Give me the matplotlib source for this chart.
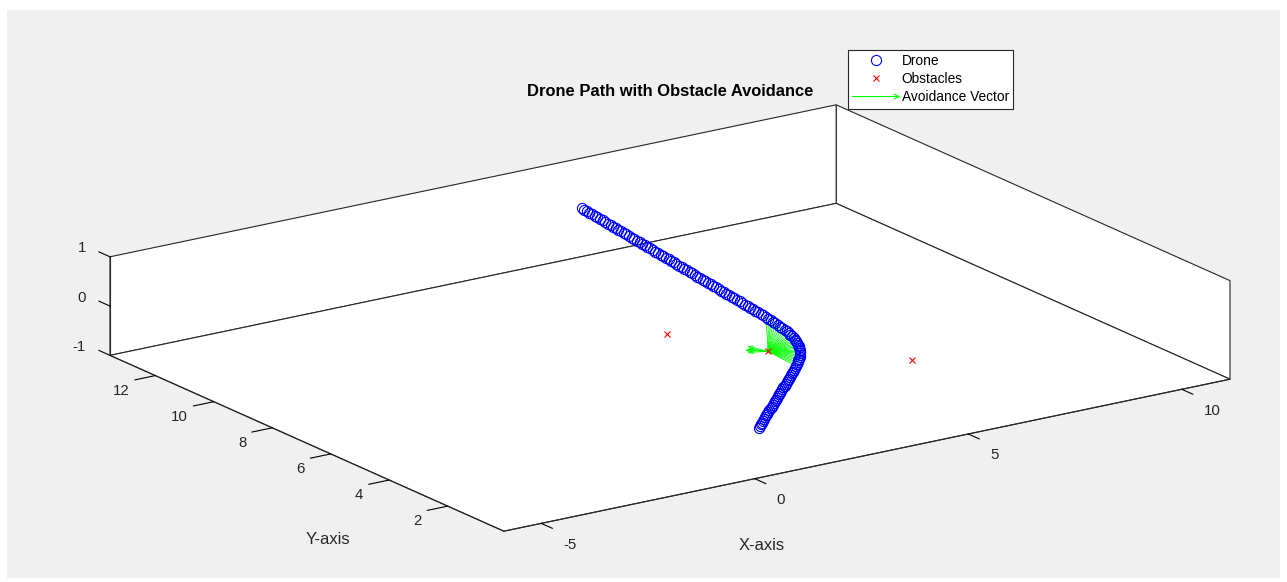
import numpy as np
import matplotlib.pyplot as plt
from matplotlib.patches import Rectangle, FancyArrowPatch
from matplotlib.legend_handler import HandlerBase
from matplotlib.transforms import IdentityTransform
from mpl_toolkits.mplot3d import proj3d

plt.rcParams['font.family'] = ['Liberation Sans', 'DejaVu Sans']
plt.rcParams['axes.unicode_minus'] = False

# drone path (z = 0)
drone_x = [0.12, 0.20, 0.28, 0.36, 0.44, 0.52, 0.60, 0.68, 0.76, 0.84, 0.92, 1.00,
           1.08, 1.16, 1.24, 1.32, 1.40, 1.48, 1.56, 1.64, 1.72, 1.80, 1.88, 1.96,
           2.04, 2.12, 2.20, 2.28, 2.36, 2.44, 2.52, 2.60, 2.68, 2.76, 2.84,
           2.92, 3.00, 3.08, 3.16, 3.24, 3.31, 3.38, 3.45, 3.51, 3.57, 3.62, 3.67,
           3.72, 3.77, 3.81, 3.85, 3.89, 3.92, 3.95, 3.98, 4.01, 4.03, 4.05, 4.07,
           4.09, 4.11, 4.13, 4.15, 4.17, 4.19,
           4.20, 4.22, 4.23, 4.24, 4.26, 4.27, 4.29, 4.30, 4.31, 4.33, 4.34, 4.35,
           4.37, 4.38, 4.39, 4.41, 4.42, 4.44, 4.45, 4.46, 4.48, 4.49, 4.50, 4.52,
           4.53, 4.54, 4.56, 4.57, 4.59, 4.60, 4.61, 4.63, 4.64, 4.65, 4.67, 4.68,
           4.70, 4.71, 4.72, 4.74, 4.75, 4.76, 4.78, 4.79, 4.80, 4.82, 4.83, 4.85,
           4.86, 4.87, 4.89, 4.90, 4.91, 4.93, 4.94, 4.95, 4.97, 4.98, 5.00, 5.01,
           5.02, 5.04, 5.05, 5.06, 5.08, 5.09, 5.10, 5.12, 5.13, 5.15]
drone_y = [0.12, 0.20, 0.28, 0.36, 0.44, 0.52, 0.60, 0.68, 0.76, 0.84, 0.92, 1.00,
           1.08, 1.16, 1.24, 1.32, 1.40, 1.48, 1.56, 1.64, 1.72, 1.80, 1.88, 1.96,
           2.04, 2.12, 2.20, 2.28, 2.36, 2.44, 2.52, 2.60, 2.68, 2.76, 2.84,
           2.93, 3.02, 3.11, 3.20, 3.29, 3.38, 3.47, 3.56, 3.65, 3.74, 3.84, 3.93,
           4.03, 4.13, 4.23, 4.33, 4.43, 4.53, 4.63, 4.73, 4.84, 4.94, 5.05, 5.16,
           5.27, 5.38, 5.49, 5.60, 5.71, 5.82,
           5.93, 6.04, 6.15, 6.26, 6.37, 6.48, 6.59, 6.70, 6.81, 6.92, 7.03, 7.14,
           7.25, 7.36, 7.47, 7.58, 7.69, 7.80, 7.91, 8.02, 8.13, 8.24, 8.35, 8.46,
           8.57, 8.68, 8.79, 8.90, 9.01, 9.12, 9.23, 9.34, 9.45, 9.56, 9.67, 9.78,
           9.89, 10.00, 10.11, 10.22, 10.33, 10.44, 10.55, 10.66, 10.77, 10.88, 10.99, 11.10,
           11.21, 11.32, 11.43, 11.54, 11.65, 11.76, 11.87, 11.98, 12.09, 12.20, 12.31, 12.42,
           12.53, 12.64, 12.75, 12.86, 12.97, 13.08, 13.19, 13.30, 13.41, 13.52]
drone_z = np.zeros(len(drone_x))

# obstacles
obs_x = [2, 3, 5]
obs_y = [6, 4, 2]
obs_z = [0, 0, 0]

# avoidance vectors (tail points + components)
avoid_x = [2.92, 3.00, 3.08, 3.16, 3.24, 3.31, 3.38, 3.45, 3.51, 3.57, 3.62, 3.67,
           3.72, 3.77, 3.81, 3.85, 3.89, 3.92, 3.95, 3.98, 4.01, 4.03, 4.05, 4.07,
           4.09, 4.11, 4.13, 4.15, 4.17, 4.19, 3.0, 3.0, 3.0, 3.0, 3.0]
avoid_y = [2.93, 3.02, 3.11, 3.20, 3.29, 3.38, 3.47, 3.56, 3.65, 3.74, 3.84, 3.93,
           4.03, 4.13, 4.23, 4.33, 4.43, 4.53, 4.63, 4.73, 4.84, 4.94, 5.05, 5.16,
           5.27, 5.38, 5.49, 5.60, 5.71, 5.82, 4.0, 4.0, 4.0, 4.0, 4.0]
avoid_u = [0.08, 0.00, -0.08, -0.16, -0.24, -0.31, -0.38, -0.45, -0.51, -0.57, -0.62, -0.67,
           -0.72, -0.77, -0.81, -0.85, -0.89, -0.92, -0.95, -0.98, -1.01, -1.03, -1.05, -1.07,
           -1.09, -1.11, -1.13, -1.15, -1.17, -1.19, -0.14, -0.27, -0.355, -0.20, -0.32]
avoid_v = [1.07, 0.98, 0.89, 0.80, 0.71, 0.62, 0.53, 0.44, 0.35, 0.26, 0.16, 0.07,
           -0.03, -0.13, -0.23, -0.33, -0.43, -0.53, -0.63, -0.73, -0.84, -0.94, -1.05, -1.16,
           -1.27, -1.38, -1.49, -1.60, -1.71, -1.82, 0.48, 0.33, 0.166, 0.36, 0.29]
n_fan = 30

xticks = [-5, 0, 5, 10]
yticks = [2, 4, 6, 8, 10, 12]
zticks = [-1, 0, 1]
xlim = (-5.875, 11.13)
ylim = (0.08, 13.55)
zlim = (-1, 1)

W, H = 1287, 582
fig = plt.figure(figsize=(W / 100, H / 100), dpi=100, facecolor='white')
fig.patches.append(Rectangle((7 / W, 4 / H), 1273 / W, 568 / H, transform=fig.transFigure,
                             facecolor='#f0f0f0', edgecolor='none', zorder=-10))

side = 500
ax = fig.add_axes([(670 - side / 2) / W, (264 - side / 2) / H, side / W, side / H],
                  projection='3d', computed_zorder=False)
ax.patch.set_alpha(0)
ax.set_proj_type('ortho')
ax.view_init(elev=17.8, azim=-124.4)
ax.set_xlim(xlim)
ax.set_ylim(ylim)
ax.set_zlim(zlim)
ax.set_box_aspect((xlim[1] - xlim[0], ylim[1] - ylim[0], zlim[1] - zlim[0]), zoom=0.8)
ax.grid(False)

edge = '#262626'
for axis in (ax.xaxis, ax.yaxis, ax.zaxis):
    axis.set_pane_color((1, 1, 1, 1))
    axis.pane.set_closed(True)
    axis.pane.set_edgecolor(edge)
    axis.pane.set_linewidth(0.8)
    axis.pane.set_clip_on(False)
    axis.line.set_color(edge)
    axis.line.set_linewidth(0.8)
    axis.line.set_clip_on(False)
    axis._axinfo['tick']['inward_factor'] = 0.35
    axis._axinfo['tick']['outward_factor'] = 0.0
    axis._axinfo['tick']['linewidth'] = {True: 0.8, False: 0.5}
    axis._axinfo['tick']['color'] = edge
# z ticks run along +y, as in the original
ax.zaxis._get_tickdir = lambda *a, **k: 1
ax.zaxis._axinfo['tick']['inward_factor'] = 0.0
ax.zaxis._axinfo['tick']['outward_factor'] = 0.35

ax.set_xticks(xticks)
ax.set_yticks(yticks)
ax.set_zticks(zticks)
ax.set_xticklabels([])
ax.set_yticklabels([])
ax.set_zticklabels([])

ax.quiver(avoid_x[:n_fan], avoid_y[:n_fan], np.zeros(n_fan),
          avoid_u[:n_fan], avoid_v[:n_fan], np.zeros(n_fan),
          color='#00ff00', linewidth=0.6, arrow_length_ratio=0.08, zorder=2)
ax.quiver(avoid_x[n_fan:], avoid_y[n_fan:], np.zeros(5),
          avoid_u[n_fan:], avoid_v[n_fan:], np.zeros(5),
          color='#00ff00', linewidth=0.6, arrow_length_ratio=0.3, zorder=2)
ax.plot(drone_x, drone_y, drone_z, 'o', color='b', mfc='none', ms=7.3, mew=0.8,
        zorder=3, label='Drone')
ax.plot(obs_x, obs_y, obs_z, 'x', color='r', ms=5, mew=0.8, zorder=4, label='Obstacles')


class ArrowHandler(HandlerBase):
    def create_artists(self, legend, orig_handle, xdescent, ydescent, width, height,
                       fontsize, trans):
        y = (height - ydescent) / 2
        a = FancyArrowPatch((-xdescent - 2, y), (-xdescent + width + 3, y), arrowstyle='->',
                            mutation_scale=9, color='#00ff00', lw=0.8, transform=trans)
        return [a]


arrow_proxy = FancyArrowPatch((0, 0), (1, 0))
handles, labels = ax.get_legend_handles_labels()
handles.append(arrow_proxy)
labels.append('Avoidance Vector')
leg = fig.legend(handles, labels, loc='upper left', bbox_to_anchor=(848 / W, 1 - 50 / H),
                 bbox_transform=fig.transFigure, borderaxespad=0, fontsize=9.9,
                 fancybox=False, framealpha=1, edgecolor=edge, handlelength=3.4,
                 handletextpad=0.2, labelspacing=0.3, borderpad=0.3,
                 handler_map={FancyArrowPatch: ArrowHandler()})
leg.get_frame().set_linewidth(0.8)

fig.text(670 / W, 1 - 91 / H, 'Drone Path with Obstacle Avoidance', ha='center', va='center',
         fontsize=11.9, fontweight='bold')
fig.text(762 / W, 1 - 545 / H, 'X-axis', ha='center', va='center', fontsize=11.9, color=edge)
fig.text(328 / W, 1 - 540 / H, 'Y-axis', ha='center', va='center', fontsize=11.9, color=edge)


def to_pixels(xs, ys, zs):
    px, py, _ = proj3d.proj_transform(np.asarray(xs, float), np.asarray(ys, float),
                                      np.asarray(zs, float), ax.get_proj())
    return ax.transData.transform(np.column_stack([px, py]))


# fit the projected box onto x 110..1230 px, centred at y 264 px (from bottom)
for _ in range(2):
    fig.canvas.draw()
    gx, gy, gz = np.meshgrid(xlim, ylim, zlim)
    pts = to_pixels(gx.ravel(), gy.ravel(), gz.ravel())
    k = 1120 / (pts[:, 0].max() - pts[:, 0].min())
    mx = (pts[:, 0].max() + pts[:, 0].min()) / 2
    my = (pts[:, 1].max() + pts[:, 1].min()) / 2
    bb = ax.get_position(original=True)
    cx = (bb.x0 + bb.width / 2) * W
    cy = (bb.y0 + bb.height / 2) * H
    side = bb.width * W * k
    ncx = 670 - k * (mx - cx)
    ncy = 264 - k * (my - cy)
    ax.set_position([(ncx - side / 2) / W, (ncy - side / 2) / H, side / W, side / H])
fig.canvas.draw()

# tick labels placed next to the projected tick positions, MATLAB style
n = len(xticks)
for (px, py), t in zip(to_pixels(xticks, [ylim[0]] * n, [zlim[0]] * n), xticks):
    fig.text(px + 22, py - 21.3, str(t), transform=IdentityTransform(), ha='left',
             va='center', fontsize=10.8, color=edge)
n = len(yticks)
for (px, py), t in zip(to_pixels([xlim[0]] * n, yticks, [zlim[0]] * n), yticks):
    fig.text(px - 26, py - 15.3, str(t), transform=IdentityTransform(), ha='right',
             va='center', fontsize=10.8, color=edge)
n = len(zticks)
for (px, py), t in zip(to_pixels([xlim[0]] * n, [ylim[1]] * n, zticks), zticks):
    fig.text(px - 24, py + 8.5, str(t), transform=IdentityTransform(), ha='right',
             va='center', fontsize=10.8, color=edge)

fig.savefig('out.png', dpi=100, facecolor=fig.get_facecolor())
